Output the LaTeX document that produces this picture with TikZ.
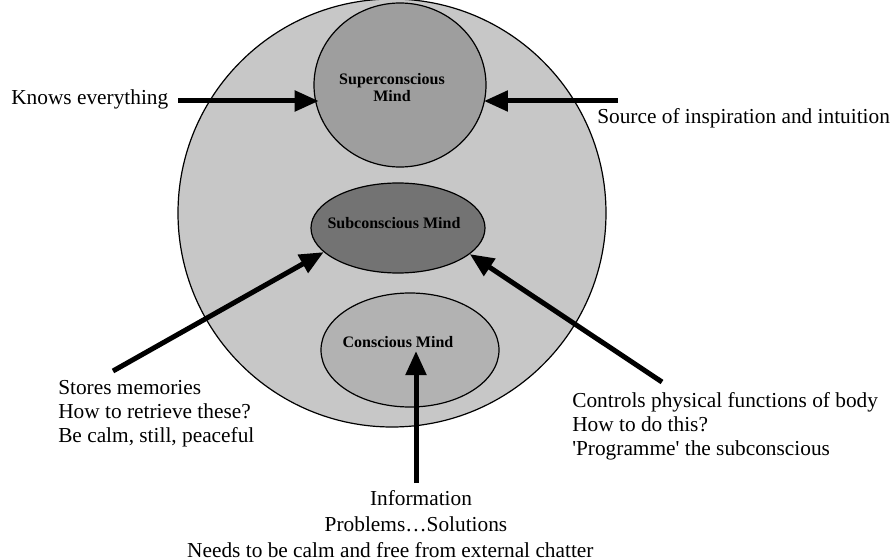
\documentclass[tikz,border=0pt]{standalone}
\usepackage{fontspec}
\setmainfont{Liberation Serif}
\usetikzlibrary{arrows.meta,shapes.geometric}
\begin{document}
\begin{tikzpicture}[x=0.75pt,y=-0.75pt,
  lbl/.style={font=\fontsize{16pt}{17.8pt}\selectfont, inner sep=0pt, align=left},
  infolbl/.style={font=\fontsize{16pt}{19.2pt}\selectfont, inner sep=0pt, align=center},
  mindtxt/.style={font=\fontsize{12pt}{12.75pt}\selectfont\bfseries, inner sep=0pt, align=center},
  mind/.style={ellipse, draw=black, line width=0.9pt, inner sep=0pt},
  bigarrow/.style={line width=3.75pt, -{Triangle[length=18pt,width=15pt]}}]
\useasboundingbox (0,0) rectangle (893,560);
\fill[white] (0,0) rectangle (893,560);
% outer circle
\node[mind, fill=black!22, minimum width=321pt, minimum height=321pt] (whole) at (392,213) {};
% inner ellipses
\node[mind, fill=black!38, minimum width=129pt, minimum height=123pt] (super) at (400,85) {};
\node[mind, fill=black!55, minimum width=130.5pt, minimum height=67.5pt] (sub) at (398,228) {};
\node[mind, fill=black!30, minimum width=133.5pt, minimum height=85.5pt] (con) at (410,350) {};
% ellipse labels
\node[mindtxt] (supert) at (392,88) {Superconscious\\Mind};
\node[mindtxt] (subt) at (394,223) {Subconscious Mind};
\node[mindtxt] (cont) at (398,342) {Conscious Mind};
% side texts
\node[lbl, anchor=base west] (knows) at (11,105) {Knows everything};
\node[lbl, anchor=base west] (source) at (597,123) {Source of inspiration and intuition};
\node[lbl, anchor=base west] (stores) at (58,442) {Stores memories\\How to retrieve these?\\Be calm, still, peaceful};
\node[lbl, anchor=base west] (controls) at (572,455) {Controls physical functions of body\\How to do this?\\\textquotesingle Programme\textquotesingle{} the subconscious};
\node[infolbl, anchor=base] (info) at (405,557) {\hspace*{24pt}Information\\\hspace*{16.5pt}Problems\ldots Solutions\\Needs to be calm and free from external chatter\hspace*{22pt}};
% arrow start points
\coordinate (kA) at (178,101);
\coordinate (sA) at (618,101);
\coordinate (mA) at (113,371);
\coordinate (cA) at (662,382);
\coordinate (iA) at (416,483);
\coordinate (iT) at (416,351);
% arrows
\draw[bigarrow, shorten >=-4pt] (kA) -- (kA -| super.west);
\draw[bigarrow, shorten >=-2pt] (sA) -- (sA -| super.east);
\draw[bigarrow] (mA) -- (sub.198);
\draw[bigarrow] (cA) -- (sub.340);
\draw[bigarrow] (iA) -- (iT);
\end{tikzpicture}
\end{document}
